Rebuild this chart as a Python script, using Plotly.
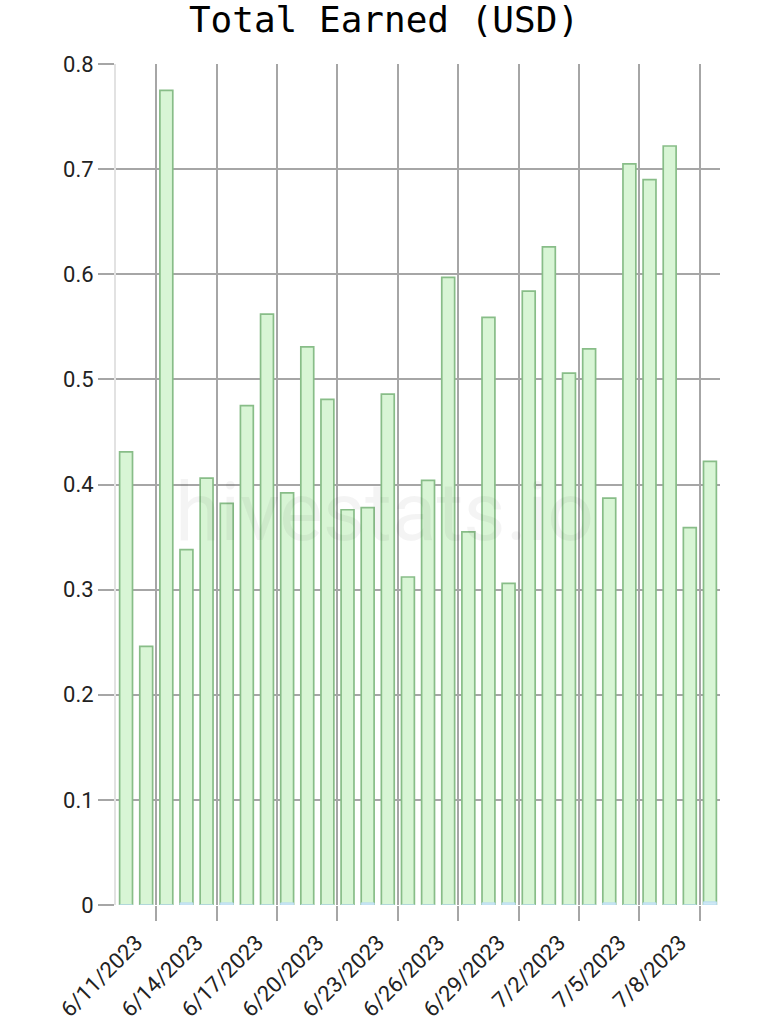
import plotly.graph_objects as go

dates = ["2023-06-09", "2023-06-10", "2023-06-11", "2023-06-12", "2023-06-13", "2023-06-14",
         "2023-06-15", "2023-06-16", "2023-06-17", "2023-06-18", "2023-06-19", "2023-06-20",
         "2023-06-21", "2023-06-22", "2023-06-23", "2023-06-24", "2023-06-25", "2023-06-26",
         "2023-06-27", "2023-06-28", "2023-06-29", "2023-06-30", "2023-07-01", "2023-07-02",
         "2023-07-03", "2023-07-04", "2023-07-05", "2023-07-06", "2023-07-07", "2023-07-08"]
earned_usd = [0.431, 0.246, 0.775, 0.338, 0.406, 0.382, 0.475, 0.562, 0.392, 0.531,
              0.481, 0.376, 0.378, 0.486, 0.312, 0.404, 0.597, 0.355, 0.559, 0.306,
              0.584, 0.626, 0.506, 0.529, 0.387, 0.705, 0.690, 0.722, 0.359, 0.422]
other_usd = [0.0, 0.0, 0.0, 0.002, 0.0, 0.002, 0.0, 0.0, 0.002, 0.0,
             0.0, 0.0, 0.002, 0.0, 0.0, 0.0, 0.0, 0.0, 0.002, 0.002,
             0.0, 0.0, 0.0, 0.0, 0.002, 0.0, 0.002, 0.0, 0.0, 0.003]
y_ticks = [0, 0.1, 0.2, 0.3, 0.4, 0.5, 0.6, 0.7, 0.8]
y_tick_labels = ["0", "0.1", "0.2", "0.3", "0.4", "0.5", "0.6", "0.7", "0.8"]

DAY_MS = 86400000
grid = "#a6a6a6"

fig = go.Figure()
fig.add_trace(go.Bar(
    x=dates, y=earned_usd, xperiod=DAY_MS, xperiodalignment="middle",
    width=0.64 * DAY_MS,
    marker=dict(color="#d8f5d5", line=dict(color="#88bd88", width=1.7)),
    name="Earned",
))
fig.add_trace(go.Bar(
    x=dates, y=other_usd, xperiod=DAY_MS, xperiodalignment="middle",
    width=0.64 * DAY_MS,
    marker=dict(color="#cfe8f5", line=dict(color="#b9dcef", width=1)),
    name="Other",
))

fig.update_layout(
    width=768, height=1023,
    margin=dict(l=116, r=48, t=64, b=118),
    paper_bgcolor="white", plot_bgcolor="white",
    barmode="overlay", showlegend=False,
    title=dict(text="Total Earned (USD)", x=0.5, xanchor="center", y=0.981, yanchor="middle",
               font=dict(family="DejaVu Sans Mono", size=36, color="#000")),
    font=dict(family="Roboto", size=22, color="#222"),
)
fig.update_xaxes(
    type="date", range=["2023-06-09", "2023-07-09"],
    tick0="2023-06-11", dtick=3 * DAY_MS, tickformat="%-m/%-d/%Y",
    tickangle=-45, ticks="outside", ticklen=15, tickcolor=grid, tickwidth=1.6,
    showgrid=True, gridcolor=grid, gridwidth=1.6,
    showline=False, zeroline=False, automargin=False,
    tickfont=dict(family="Roboto", size=22, color="#222"),
    ticklabelshift=-20,
)
fig.update_yaxes(
    range=[0, 0.8], tickvals=y_ticks, ticktext=y_tick_labels,
    ticks="outside", ticklen=16, tickcolor=grid, tickwidth=1.6,
    showgrid=True, gridcolor=grid, gridwidth=1.6,
    showline=True, linecolor="#e2e2e2", linewidth=2,
    zeroline=False, automargin=False,
    tickfont=dict(family="Roboto", size=22, color="#222"),
)
fig.add_annotation(
    text="hivestats.io", xref="paper", yref="paper", x=0.445, y=0.467,
    showarrow=False, font=dict(family="Roboto", size=82, color="rgba(0,0,0,0.045)"),
)
fig.write_html(
    "out.html",
    config={"displayModeBar": False},
    post_script="document.body.style.margin='0';document.body.style.overflow='hidden';",
)
